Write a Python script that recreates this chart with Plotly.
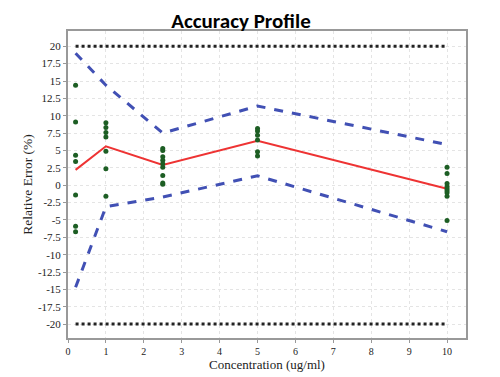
import plotly.graph_objects as go

conc = [0.2, 1, 2.5, 5, 10]
obs_x = ([0.2]*7 + [1]*7 + [2.5]*9 + [5]*6 + [10]*9)
obs_y = ([14.4, 9.1, 4.3, 3.4, -1.4, -5.9, -6.7] +
         [9.0, 8.3, 7.6, 6.95, 4.9, 2.35, -1.6] +
         [5.3, 5.0, 4.1, 3.6, 3.1, 2.6, 1.4, 0.3, 0.15] +
         [8.15, 7.8, 7.2, 6.5, 4.8, 4.2] +
         [2.6, 1.7, 0.25, -0.2, -0.5, -1.1, -1.6, -0.8, -5.1])
mean_err = [2.2, 5.6, 2.9, 6.4, -0.5]
upper_tol = [19.0, 14.4, 7.5, 11.4, 5.85]
lower_tol = [-14.7, -3.1, -1.7, 1.35, -6.7]
limit_x = [0.2, 10]
upper_limit = [20, 20]
lower_limit = [-20, -20]
yticks = [-20, -17.5, -15, -12.5, -10, -7.5, -5, -2.5, 0, 2.5, 5, 7.5, 10, 12.5, 15, 17.5, 20]
ytick_text = ["-20", "-17.5", "-15", "-12.5", "-10", "-7.5", "-5", "-2.5", "0", "2.5", "5", "7.5", "10", "12.5", "15", "17.5", "20"]
xticks = list(range(0, 11))

fig = go.Figure()
fig.add_trace(go.Scatter(x=limit_x, y=upper_limit, mode="lines",
                         line=dict(color="#222222", width=3, dash="dot")))
fig.add_trace(go.Scatter(x=limit_x, y=lower_limit, mode="lines",
                         line=dict(color="#222222", width=3, dash="dot")))
fig.add_trace(go.Scatter(x=conc, y=upper_tol, mode="lines",
                         line=dict(color="#4150b4", width=3, dash="dash")))
fig.add_trace(go.Scatter(x=conc, y=lower_tol, mode="lines",
                         line=dict(color="#4150b4", width=3, dash="dash")))
fig.add_trace(go.Scatter(x=conc, y=mean_err, mode="lines",
                         line=dict(color="#ee3333", width=2)))
fig.add_trace(go.Scatter(x=obs_x, y=obs_y, mode="markers",
                         marker=dict(color="#1d5e24", size=5)))

fig.update_layout(
    width=500, height=377,
    margin=dict(l=60, r=42, t=23, b=47),
    paper_bgcolor="white", plot_bgcolor="white",
    showlegend=False,
    title=dict(text="<b>Accuracy Profile</b>", x=0.466, xanchor="center", y=0.985, yanchor="top",
               font=dict(family="Carlito, Lato, sans-serif", size=21, color="black")),
    font=dict(family="Liberation Serif, Times New Roman, serif", color="#222"),
)
fig.update_xaxes(range=[0, 10.5], tickvals=xticks, showgrid=True,
                 gridcolor="#e4e4e4", griddash="dot", gridwidth=1,
                 showline=True, linecolor="#999999", linewidth=2, mirror=True,
                 zeroline=False, ticks="outside", ticklen=3, tickcolor="#999999",
                 tickfont=dict(size=10),
                 title=dict(text="Concentration (ug/ml)", font=dict(size=13), standoff=3))
fig.update_yaxes(range=[-22, 22.2], tickvals=yticks, ticktext=ytick_text, showgrid=True,
                 gridcolor="#e4e4e4", griddash="dot", gridwidth=1,
                 showline=True, linecolor="#999999", linewidth=2, mirror=True,
                 zeroline=False, ticks="outside", ticklen=3, tickcolor="#999999",
                 tickfont=dict(size=11),
                 title=dict(text="Relative Error (%)", font=dict(size=13.5), standoff=2))

fig.write_html("out.html")
